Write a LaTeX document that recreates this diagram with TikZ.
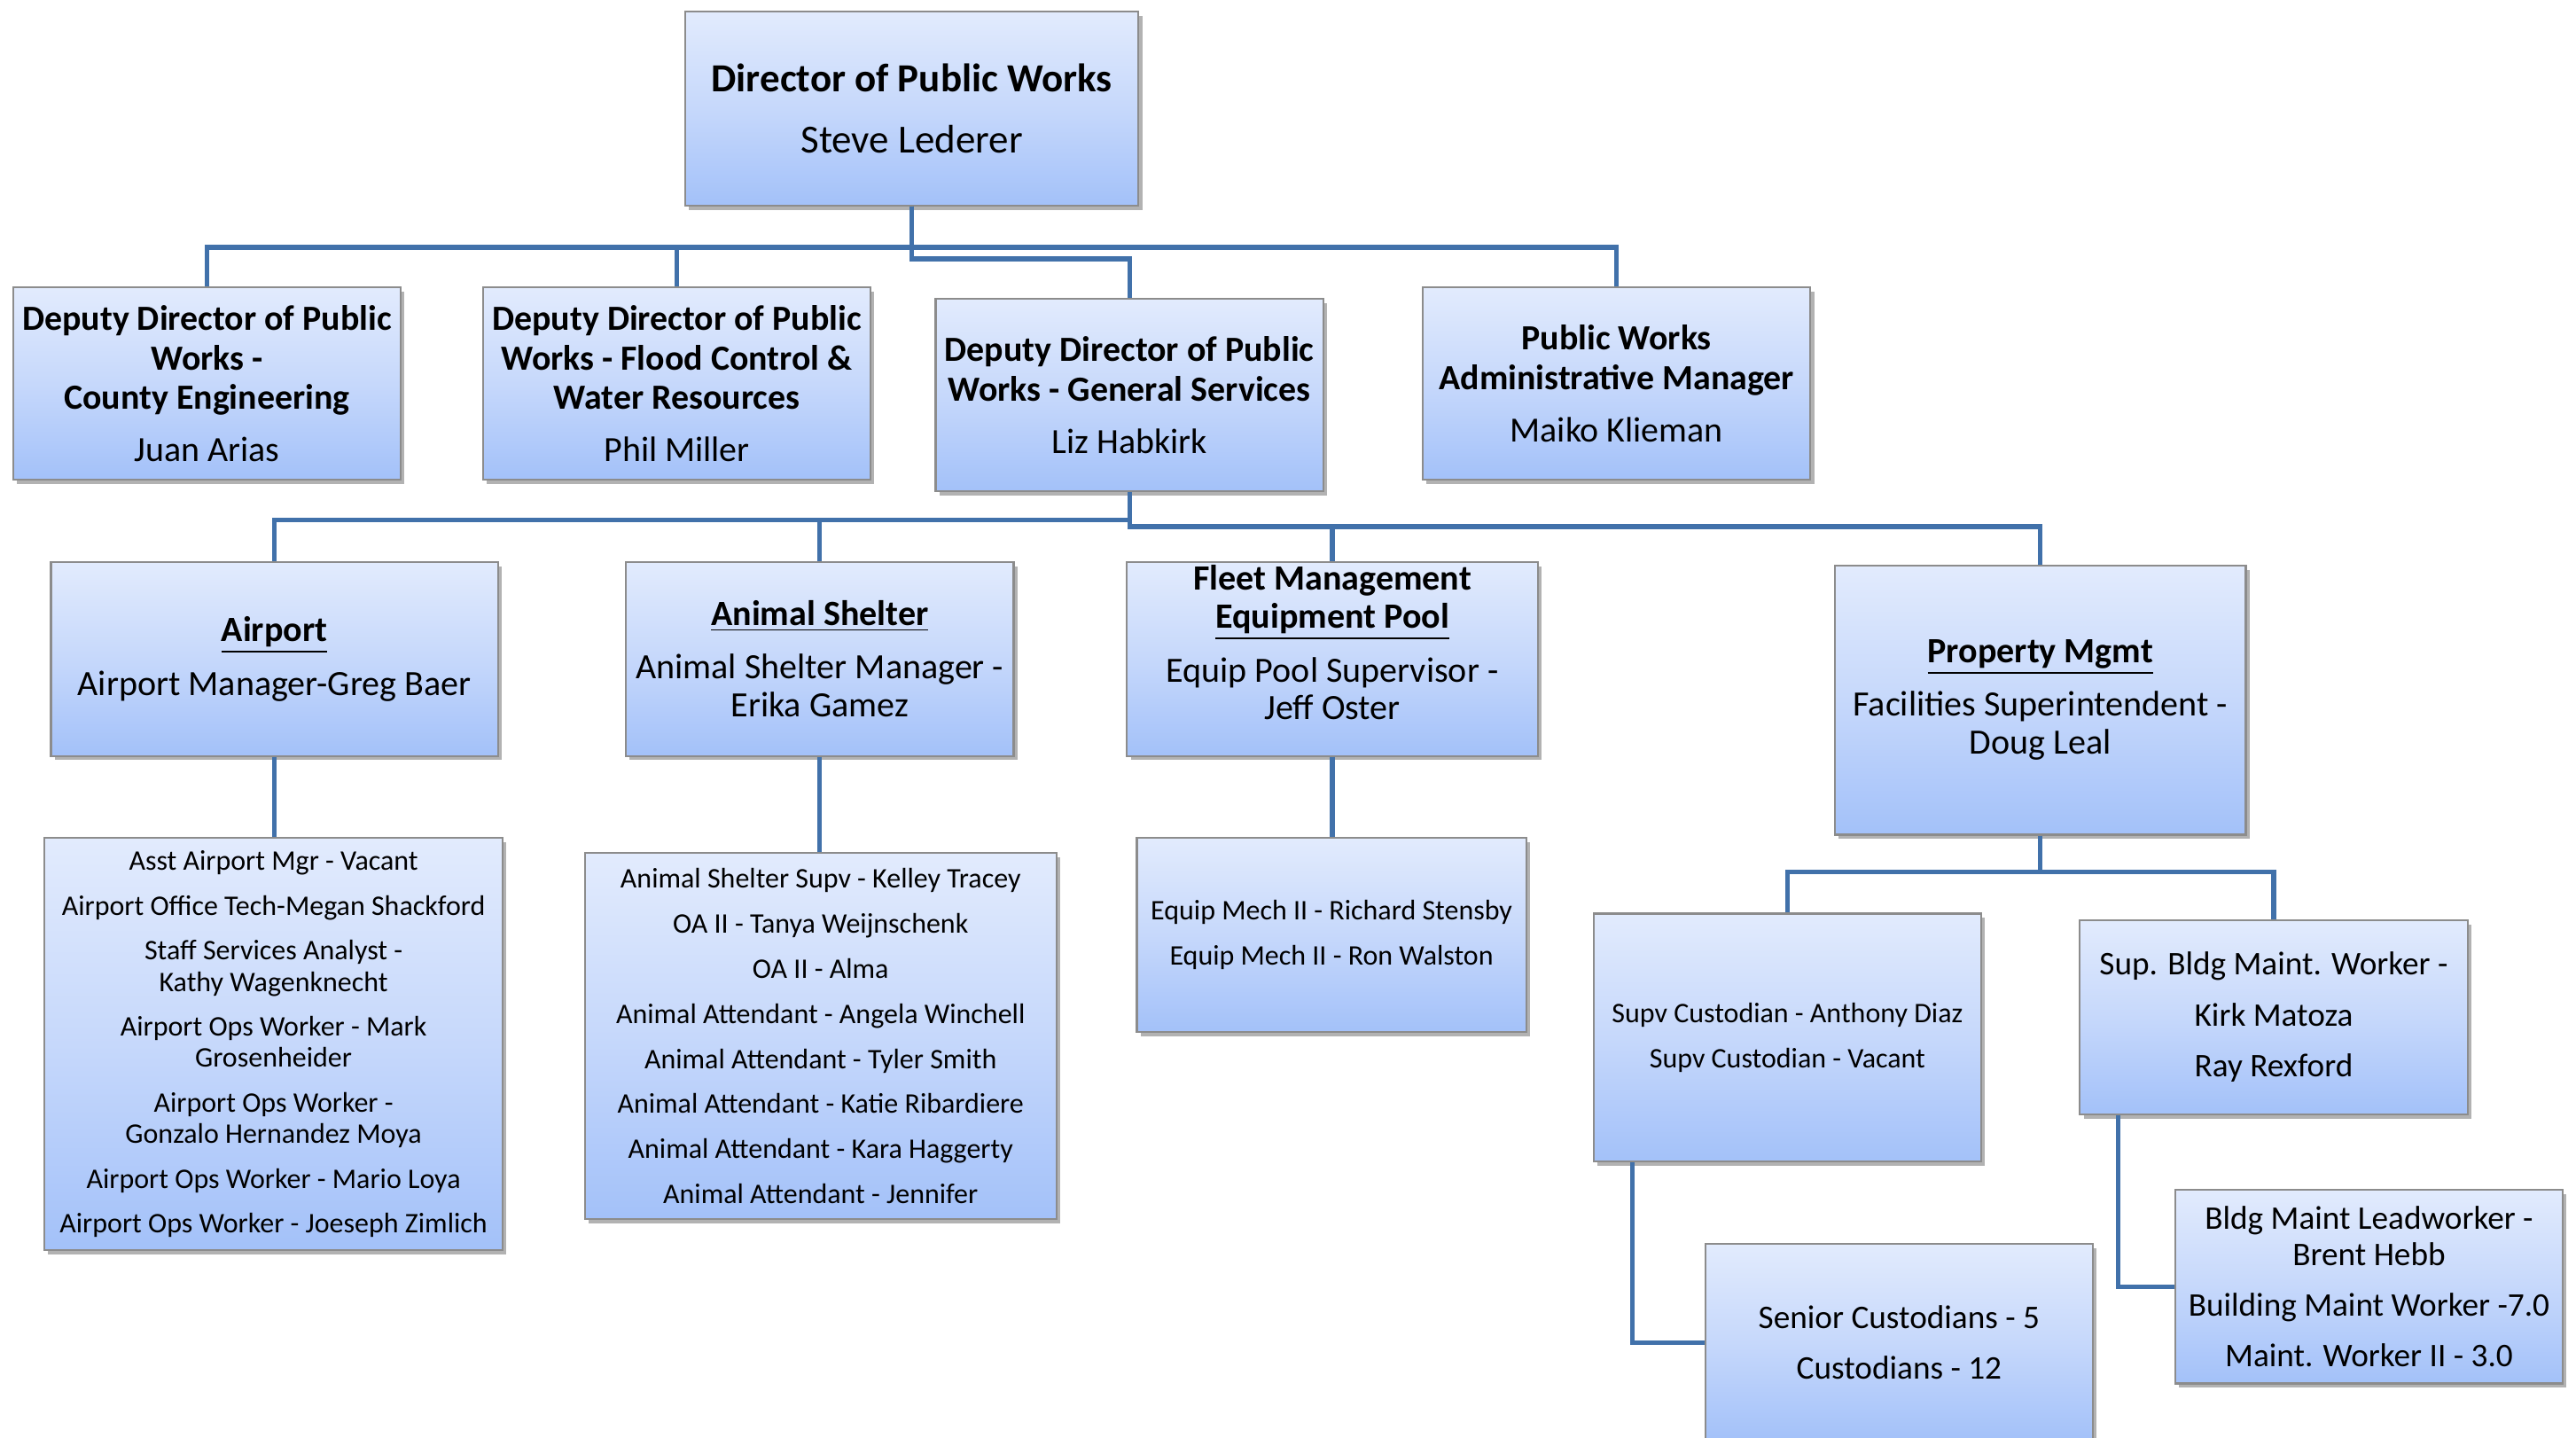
\documentclass[tikz,border=0pt]{standalone}
\usepackage{fontspec}
\setmainfont{Carlito}
\usepackage{tikz}
\usetikzlibrary{shadows}
\definecolor{boxtop}{RGB}{226,235,253}
\definecolor{boxmid}{RGB}{198,216,251}
\definecolor{boxbot}{RGB}{163,193,249}
\definecolor{boxline}{RGB}{140,140,140}
\definecolor{linkblue}{RGB}{65,113,170}

\begin{document}
\begin{tikzpicture}[x=0.18533mm,y=-0.18533mm,
  post/.style={draw=boxline,line width=0.6pt,top color=boxtop,bottom color=boxbot,middle color=boxmid,
    drop shadow={shadow xshift=1.2pt,shadow yshift=-1.4pt,fill=black,opacity=0.3},
    align=center,inner sep=1pt},
  chief/.style={post,font=\fontsize{12.8}{15}\selectfont},
  deputy/.style={post,font=\fontsize{11.35}{12.6}\selectfont},
  unit/.style={post,font=\fontsize{11.4}{12.2}\selectfont},
  staff/.style={post,font=\fontsize{9.1}{10}\selectfont},
  crew/.style={post,font=\fontsize{10.6}{11.6}\selectfont},
  link/.style={draw=linkblue,line width=1.5pt}]
  \useasboundingbox (0,0) rectangle (1568,875);
  \clip (0,0) rectangle (1568,875);

  \node[chief,minimum width=5.115cm,minimum height=2.187cm] (dir) at (555,66)
    {\textbf{Director of Public Works}\\[4.5pt]Steve Lederer};

  \node[deputy,minimum width=4.374cm,minimum height=2.168cm] (eng) at (126,233.5)
    {\textbf{Deputy Director of Public}\\\textbf{Works -}\\\textbf{County Engineering}\\[4.2pt]Juan Arias};
  \node[deputy,minimum width=4.374cm,minimum height=2.168cm] (flood) at (412,233.5)
    {\textbf{Deputy Director of Public}\\\textbf{Works - Flood Control \&}\\\textbf{Water Resources}\\[4.2pt]Phil Miller};
  \node[deputy,minimum width=4.374cm,minimum height=2.168cm] (gen) at (687.5,240.5)
    {\textbf{Deputy Director of Public}\\\textbf{Works - General Services}\\[4.2pt]Liz Habkirk};
  \node[deputy,minimum width=4.374cm,minimum height=2.168cm] (adm) at (984,233.5)
    {\textbf{Public Works}\\\textbf{Administrative Manager}\\[4.2pt]Maiko Klieman};

  \node[unit,minimum width=5.041cm,minimum height=2.187cm] (air) at (167,401)
    {\textbf{\underline{Airport}}\\[5pt]Airport Manager-Greg Baer};
  \node[unit,minimum width=4.374cm,minimum height=2.187cm] (shel) at (499,401)
    {\textbf{\underline{Animal Shelter}}\\[5pt]Animal Shelter Manager -\\Erika Gamez};
  \node[unit,minimum width=4.633cm,minimum height=2.187cm,text depth=10.5pt] (fleet) at (811,401)
    {\textbf{Fleet Management}\\\textbf{\underline{Equipment Pool}}\\[5pt]Equip Pool Supervisor -\\Jeff Oster};
  \node[unit,minimum width=4.633cm,minimum height=3.039cm] (prop) at (1242,426)
    {\textbf{\underline{Property Mgmt}}\\[5pt]Facilities Superintendent -\\Doug Leal};

  \node[staff,minimum width=5.171cm,minimum height=4.652cm] (airstaff) at (166.5,635.5)
    {Asst Airport Mgr - Vacant\\[4.4pt]Airport Office Tech-Megan Shackford\\[4.4pt]Staff Services Analyst -\\Kathy Wagenknecht\\[4.4pt]Airport Ops Worker - Mark\\Grosenheider\\[4.4pt]Airport Ops Worker -\\Gonzalo Hernandez Moya\\[4.4pt]Airport Ops Worker - Mario Loya\\[4.4pt]Airport Ops Worker - Joeseph Zimlich};
  \node[staff,minimum width=5.319cm,minimum height=4.133cm] (shelstaff) at (499.5,630.5)
    {Animal Shelter Supv - Kelley Tracey\\[4.5pt]OA II - Tanya Weijnschenk\\[4.5pt]OA II - Alma\\[4.5pt]Animal Attendant - Angela Winchell\\[4.5pt]Animal Attendant - Tyler Smith\\[4.5pt]Animal Attendant - Katie Ribardiere\\[4.5pt]Animal Attendant - Kara Haggerty\\[4.5pt]Animal Attendant - Jennifer};
  \node[staff,minimum width=4.392cm,minimum height=2.187cm] (fleetstaff) at (810.5,569)
    {Equip Mech II - Richard Stensby\\[4.5pt]Equip Mech II - Ron Walston};

  \node[staff,minimum width=4.374cm,minimum height=2.798cm] (cust) at (1088,631.5)
    {Supv Custodian - Anthony Diaz\\[4.5pt]Supv Custodian - Vacant};
  \node[crew,minimum width=4.374cm,minimum height=2.187cm] (bldg) at (1384,619)
    {Sup. Bldg Maint. Worker -\\[4.7pt]Kirk Matoza\\[4.7pt]Ray Rexford};
  \node[crew,minimum width=4.374cm,minimum height=2.224cm] (senior) at (1156,817)
    {Senior Custodians - 5\\[4.7pt]Custodians - 12};
  \node[crew,minimum width=4.374cm,minimum height=2.187cm] (lead) at (1442,783)
    {Bldg Maint Leadworker -\\Brent Hebb\\[4.7pt]Building Maint Worker -7.0\\[4.7pt]Maint. Worker II - 3.0};

  \draw[link] (dir.south) -- ++(0,25) -| (eng.north);
  \draw[link] (dir.south) -- ++(0,25) -| (flood.north);
  \draw[link] (dir.south) -- ++(0,25) -| (adm.north);
  \draw[link] (dir.south) -- ++(0,32) -| (gen.north);

  \draw[link] (gen.south) -- ++(0,17) -| (air.north);
  \draw[link] (gen.south) -- ++(0,17) -| (shel.north);
  \draw[link] (gen.south) -- ++(0,21) -| (fleet.north);
  \draw[link] (gen.south) -- ++(0,21) -| (prop.north);

  \draw[link] (air.south) -- (air.south |- airstaff.north);
  \draw[link] (shel.south) -- (shel.south |- shelstaff.north);
  \draw[link] (fleet.south) -- (fleet.south |- fleetstaff.north);

  \draw[link] (prop.south) -- ++(0,22) -| (cust.north);
  \draw[link] (prop.south) -- ++(0,22) -| (bldg.north);
  \draw[link] ([xshift=4.45mm]cust.south west) |- (senior.west);
  \draw[link] ([xshift=4.45mm]bldg.south west) |- (lead.west);
\end{tikzpicture}
\end{document}
